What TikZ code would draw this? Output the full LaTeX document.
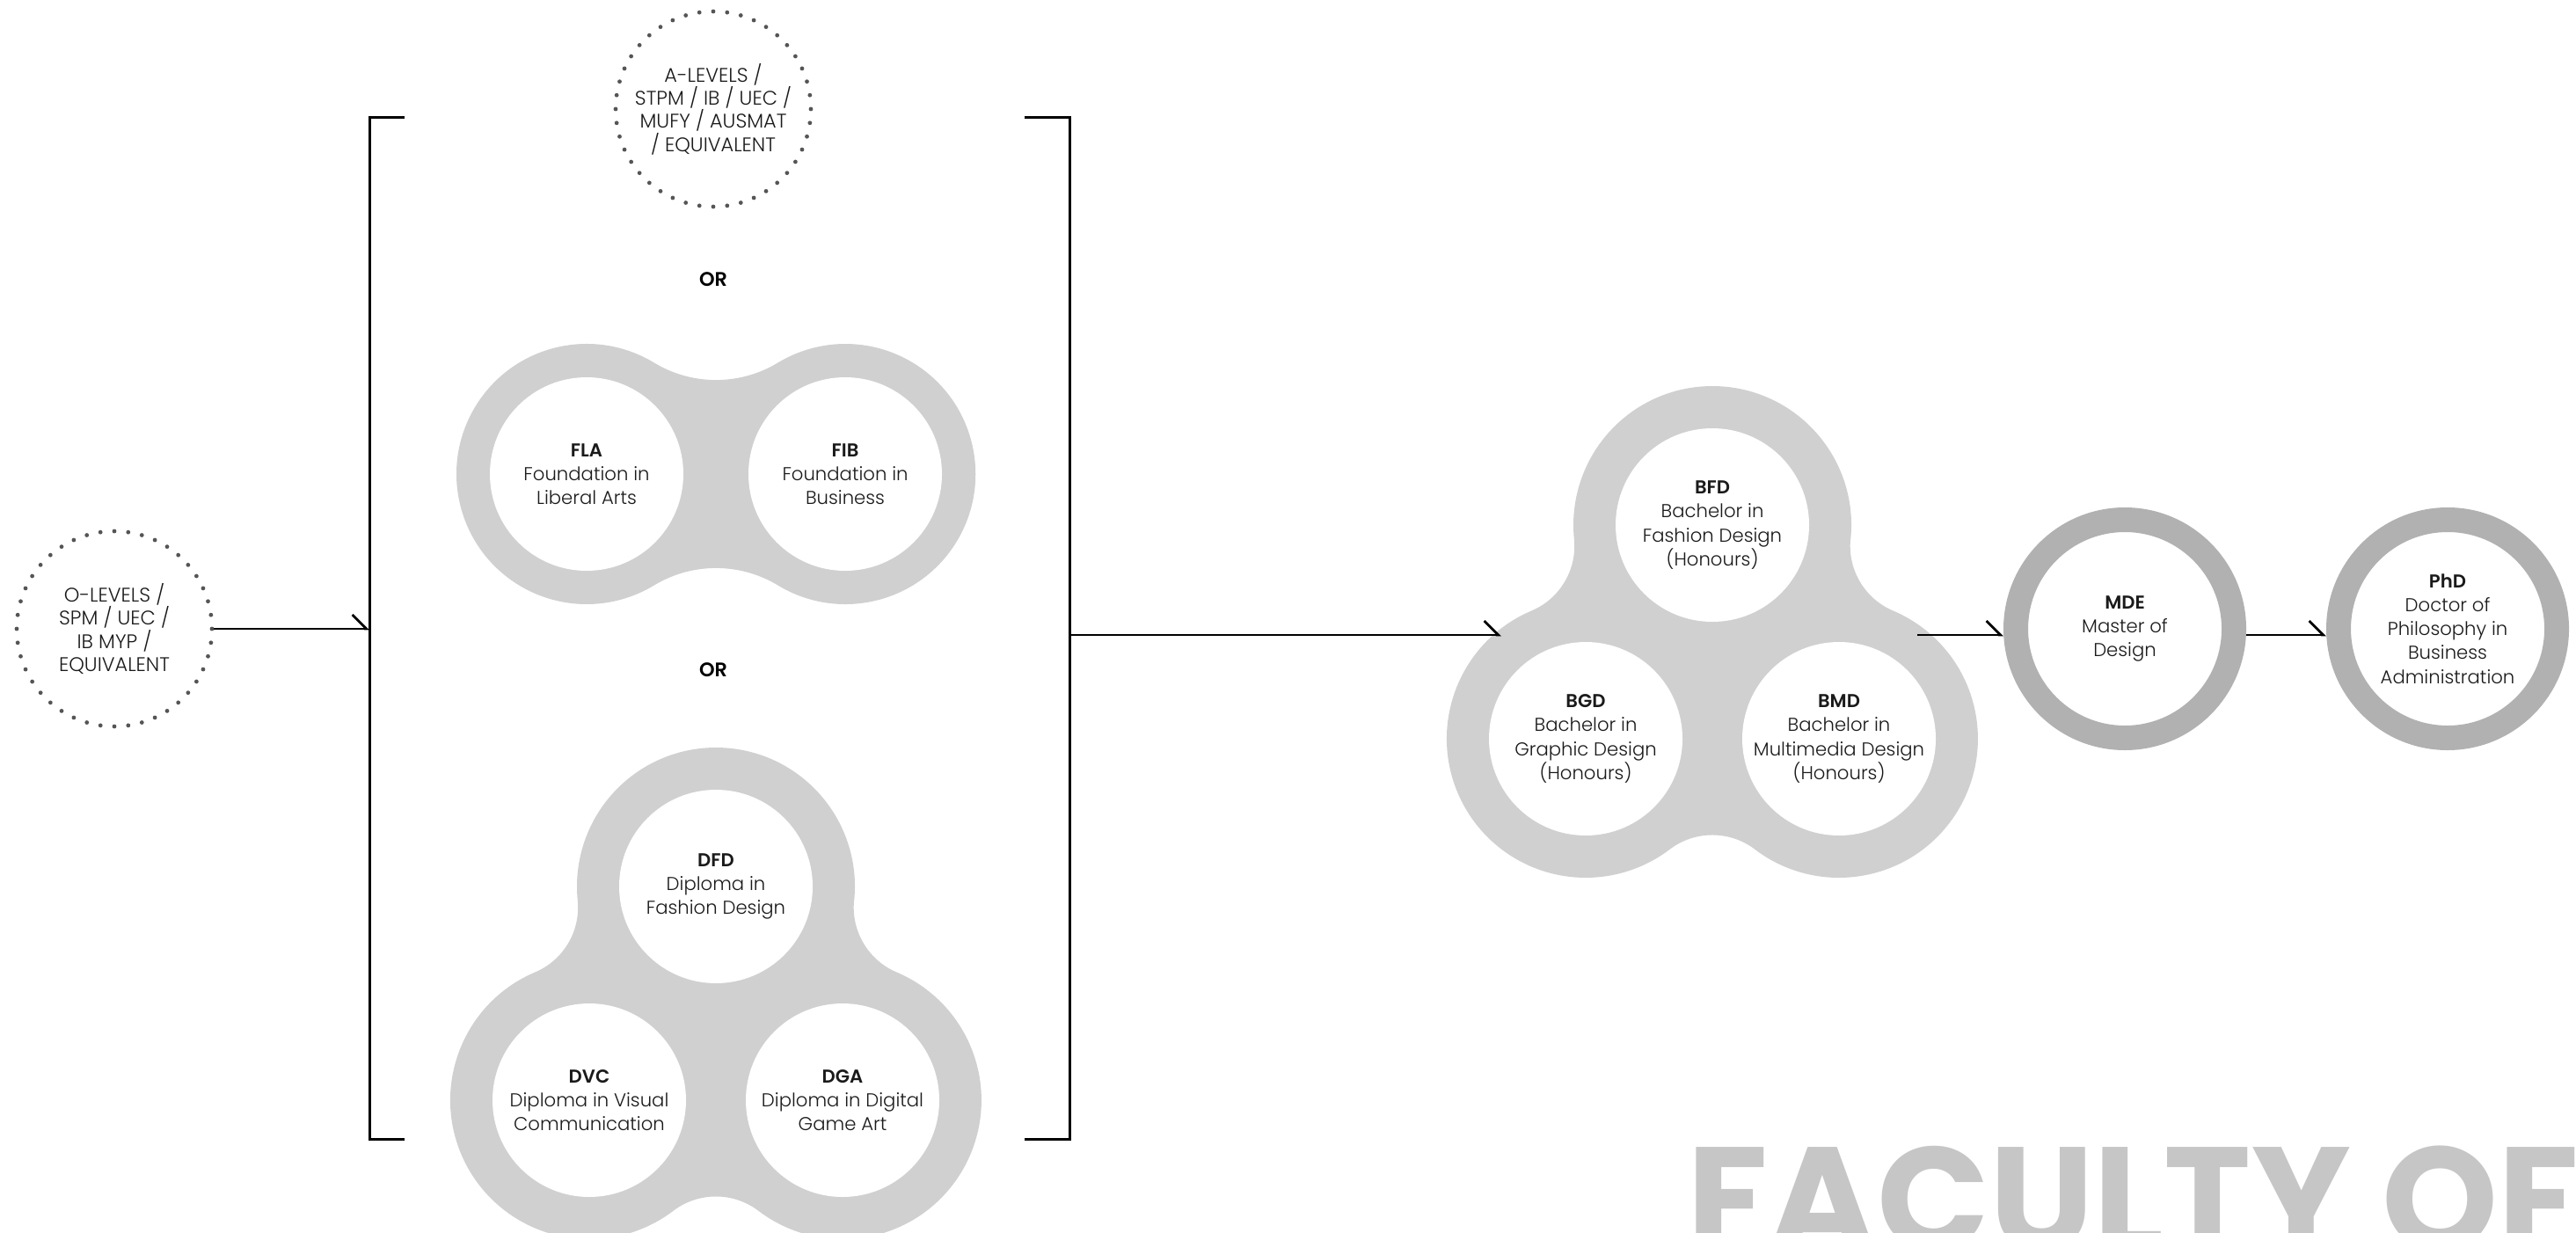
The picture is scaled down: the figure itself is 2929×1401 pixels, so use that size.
\documentclass[tikz,border=0pt]{standalone}
\usepackage{fontspec}
\setmainfont{Poppins}[UprightFont=* Light, BoldFont=* SemiBold]
\newfontfamily\titlefont{Poppins}[UprightFont=* Bold]
\usetikzlibrary{arrows.meta}

\definecolor{blobgrey}{HTML}{D0D0D0}
\definecolor{ringgrey}{HTML}{B1B1B1}
\definecolor{titlegrey}{HTML}{C6C6C6}
\definecolor{dotgrey}{HTML}{555555}
\definecolor{inkgrey}{HTML}{1A1A1A}

\tikzset{every picture/.style={line width=0.7pt}}
\tikzset{
  prog/.style={circle, fill=white, minimum size=55pt, inner sep=-6pt, align=center, text=inkgrey, font=\fontsize{5.3}{6.8}\selectfont},
  degree/.style={prog, draw=ringgrey, line width=7pt, minimum size=62pt},
  entry/.style={circle, draw=dotgrey, line width=1.2pt, line cap=round, dash pattern=on 0pt off 3.963pt, minimum size=55.5pt, inner sep=-6pt, align=center, text=inkgrey, font=\fontsize{5.6}{6.6}\selectfont},
  orlabel/.style={inner sep=0pt, text=black, font=\fontsize{5.6}{6.6}\selectfont\bfseries},
  arr/.style={-{Straight Barb[left, length=4pt, width=8pt]}}
}

\begin{document}
\begin{tikzpicture}[x=0.25pt,y=0.25pt,yscale=-1,xscale=1]
\useasboundingbox (0,0) rectangle (2929,1401);
\clip (0,0) rectangle (2929,1401);

%Shape: Two Circle Blob
\fill[blobgrey] (667,539) ++(-58.8:148) arc[start angle=-58.8, end angle=-301.2, radius=148] arc[start angle=-121.2, end angle=-58.8, radius=136] arc[start angle=-238.8, end angle=-481.2, radius=148] arc[start angle=-301.2, end angle=-238.8, radius=136] -- cycle ;
%Shape: Three Circle Blob
\fill[blobgrey] (814,1008) ++(5.74:158) arc[start angle=5.74, end angle=-185.74, radius=158] arc[start angle=-5.74, end angle=67.06, radius=80] arc[start angle=-112.94, end angle=-307.23, radius=158] arc[start angle=-127.23, end angle=-52.77, radius=80] arc[start angle=-232.77, end angle=-427.06, radius=158] arc[start angle=-247.06, end angle=-174.26, radius=80] -- cycle ;
%Shape: Three Circle Blob
\fill[blobgrey] (1947,597) ++(5.74:158) arc[start angle=5.74, end angle=-185.74, radius=158] arc[start angle=-5.74, end angle=67.06, radius=80] arc[start angle=-112.94, end angle=-307.23, radius=158] arc[start angle=-127.23, end angle=-52.77, radius=80] arc[start angle=-232.77, end angle=-427.06, radius=158] arc[start angle=-247.06, end angle=-174.26, radius=80] -- cycle ;

% Foundation and Diploma Nodes
\node[prog] (fla) at (667,539) {\textbf{FLA}\\Foundation in\\Liberal Arts};
\node[prog] (fib) at (961,539) {\textbf{FIB}\\Foundation in\\Business};
\node[prog] (dfd) at (814,1008) {\textbf{DFD}\\Diploma in\\Fashion Design};
\node[prog] (dvc) at (670,1251) {\textbf{DVC}\\Diploma in Visual\\Communication};
\node[prog] (dga) at (958,1251) {\textbf{DGA}\\Diploma in Digital\\Game Art};

% Bachelor Nodes
\node[prog] (bfd) at (1947,597) {\textbf{BFD}\\Bachelor in\\Fashion Design\\(Honours)};
\node[prog] (bgd) at (1803,840) {\textbf{BGD}\\Bachelor in\\Graphic Design\\(Honours)};
\node[prog] (bmd) at (2091,840) {\textbf{BMD}\\Bachelor in\\Multimedia Design\\(Honours)};

% Postgraduate Nodes
\node[degree] (mde) at (2416,715) {\textbf{MDE}\\Master of\\Design};
\node[degree] (phd) at (2783,715) {\textbf{PhD}\\Doctor of\\Philosophy in\\Business\\Administration};

% Entry Nodes
\node[entry] (alev) at (811,124) {A-LEVELS /\\STPM / IB / UEC /\\MUFY / AUSMAT\\/ EQUIVALENT};
\node[entry] (olev) at (130,715) {O-LEVELS /\\SPM / UEC /\\IB MYP /\\EQUIVALENT};

% Text Node
\node[orlabel] (or1) at (811,318) {OR};
% Text Node
\node[orlabel] (or2) at (811,762) {OR};

%Straight Lines
\draw[line width=0.75pt] (460,134) -- (420,134) -- (420,1295) -- (460,1295) ;
\draw[line width=0.75pt] (1165,134) -- (1216,134) -- (1216,1295) -- (1165,1295) ;
\coordinate (lbrk) at (420,134);
\coordinate (rbrk) at (1216,722);
\coordinate (bin) at (1707,722);
\coordinate (bout) at (2180,722);

% Connectors
\draw[arr] (olev.east) -- (olev.east -| lbrk);
\draw[arr] (rbrk) -- (bin);
\draw[arr] (bout) -- (bout -| mde.west);
\draw[arr] (bout -| mde.east) -- (bout -| phd.west);

% Text Node
\node[anchor=north west, inner sep=0pt, text=titlegrey, font=\titlefont\fontsize{42}{42}\selectfont] (faculty) at (1917,1301) {FACULTY OF};

\end{tikzpicture}
\end{document}
